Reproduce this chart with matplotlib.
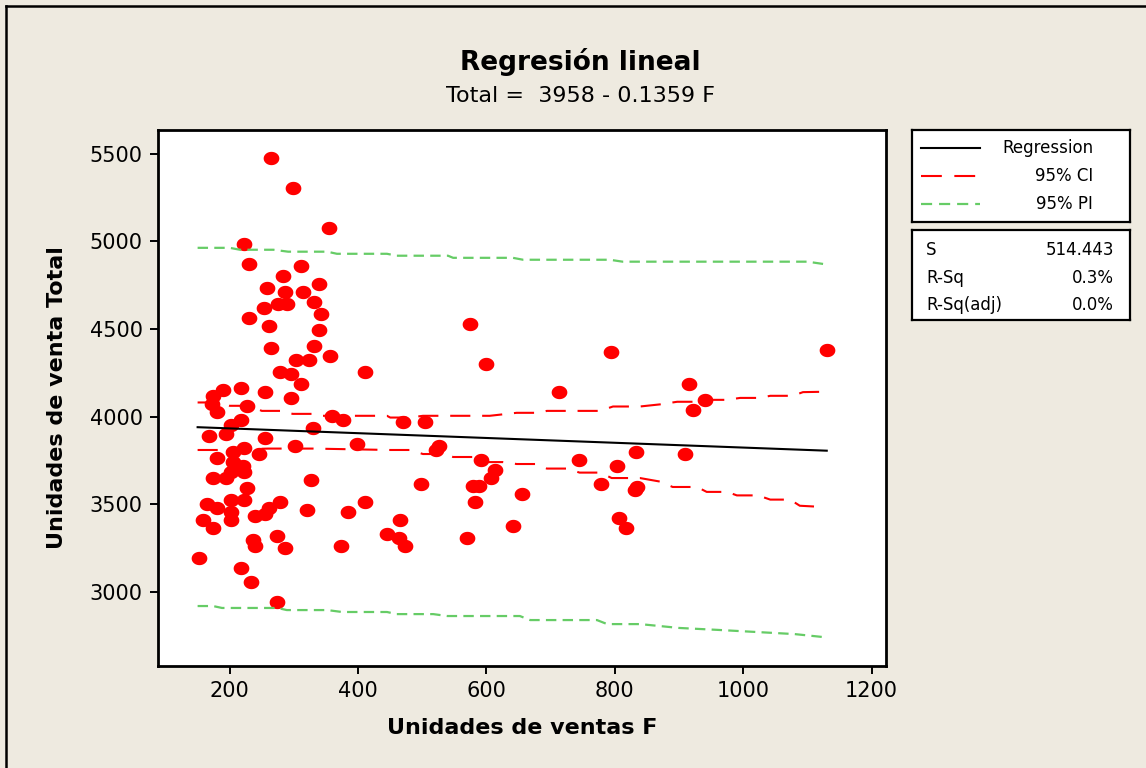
import numpy as np
import matplotlib
matplotlib.use("Agg")
import matplotlib.pyplot as plt
from matplotlib.path import Path
from matplotlib.markers import MarkerStyle

plt.rcParams['font.family'] = ['DejaVu Sans']
plt.rcParams['lines.scale_dashes'] = False

# observed data (Unidades de ventas F, Unidades de venta Total)
ventas_f = [264, 298, 354, 223, 230, 311, 283, 258, 286, 314, 339, 332, 276, 289, 254,
            342, 230, 261, 339, 264, 332, 357, 304, 323, 410, 279, 295, 311, 217, 189,
            174, 255, 295, 172, 180, 227, 217, 202, 195, 167, 255, 329, 360, 376, 301,
            398, 223, 205, 245, 180, 205, 220, 223, 202, 174, 195, 326, 227, 165, 180,
            202, 223, 202, 202, 158, 174, 239, 255, 261, 279, 320, 385, 410, 236, 239,
            273, 286, 373, 152, 217, 233, 273, 445, 575, 600, 713, 794, 470, 504, 526,
            522, 591, 613, 607, 498, 579, 588, 582, 656, 744, 803, 833, 778, 834, 831,
            466, 463, 473, 569, 641, 806, 818, 1130, 915, 940, 921, 909]
venta_total = [5477, 5304, 5078, 4986, 4872, 4861, 4804, 4735, 4712, 4712, 4758, 4655, 4644, 4644, 4621,
               4587, 4564, 4518, 4495, 4393, 4404, 4347, 4324, 4324, 4256, 4256, 4244, 4187, 4164, 4153,
               4119, 4142, 4107, 4075, 4024, 4062, 3982, 3950, 3902, 3890, 3879, 3936, 4005, 3982, 3833,
               3845, 3822, 3799, 3788, 3765, 3742, 3719, 3685, 3685, 3651, 3651, 3639, 3594, 3502, 3479,
               3525, 3525, 3457, 3411, 3411, 3365, 3434, 3445, 3479, 3514, 3468, 3457, 3514, 3297, 3263,
               3320, 3251, 3263, 3194, 3137, 3057, 2943, 3331, 4530, 4301, 4142, 4370, 3970, 3970, 3833,
               3810, 3753, 3696, 3651, 3616, 3605, 3605, 3514, 3559, 3753, 3719, 3799, 3616, 3599, 3582,
               3411, 3308, 3263, 3308, 3377, 3422, 3365, 4381, 4187, 4096, 4039, 3788]

# fitted line and bands
fit_x = [150, 1130]
fit_y = [3940, 3806]

ci_up_x = [150, 185, 200, 232, 250, 283, 298, 336, 345, 445, 450, 481, 501, 605, 647, 683,
           694, 777, 797, 839, 870, 897, 928, 948, 975, 995, 1026, 1042, 1077, 1093, 1124]
ci_up_y = [4081, 4081, 4062, 4062, 4033, 4033, 4016, 4016, 4005, 4005, 3995, 3995, 4005, 4005, 4022, 4022,
           4033, 4033, 4058, 4058, 4070, 4085, 4085, 4096, 4096, 4107, 4107, 4119, 4119, 4140, 4142]
ci_lo_x = [150, 185, 260, 330, 450, 481, 501, 533, 548, 579, 600, 626, 647, 678, 694, 725,
           745, 777, 795, 839, 870, 890, 928, 943, 975, 990, 1023, 1042, 1073, 1088, 1124]
ci_lo_y = [3810, 3810, 3818, 3818, 3810, 3810, 3787, 3787, 3770, 3770, 3741, 3741, 3730, 3730, 3704, 3704,
           3681, 3681, 3650, 3650, 3630, 3599, 3599, 3571, 3571, 3551, 3551, 3527, 3527, 3492, 3485]
pi_up_x = [150, 200, 216, 268, 291, 352, 367, 445, 460, 540, 548, 641, 657, 792, 812, 1100, 1130]
pi_up_y = [4963, 4963, 4952, 4952, 4941, 4941, 4929, 4929, 4918, 4918, 4906, 4906, 4895, 4895, 4884, 4884, 4868]
pi_lo_x = [150, 174, 188, 274, 289, 352, 375, 445, 460, 517, 539, 652, 668, 772, 788, 839,
           900, 960, 1020, 1080, 1130]
pi_lo_y = [2920, 2920, 2909, 2909, 2897, 2897, 2886, 2886, 2874, 2874, 2863, 2863, 2840, 2840, 2817, 2817,
           2795, 2784, 2772, 2760, 2741]

x_ticks = [200, 400, 600, 800, 1000, 1200]
y_ticks = [3000, 3500, 4000, 4500, 5000, 5500]

stats_labels = ['S', 'R-Sq', 'R-Sq(adj)']
stats_values = ['514.443', '0.3%', '0.0%']
legend_labels = ['Regression', '95% CI', '95% PI']

bg = '#EEEAE0'
green = '#66CC66'

W, H = 1146, 768
fig = plt.figure(figsize=(W / 100, H / 100), dpi=100, facecolor=bg)


def box(x0, y0, x1, y1):
    # pixel box -> figure fraction rect
    return [x0 / W, 1 - y1 / H, (x1 - x0) / W, (y1 - y0) / H]


# outer frame (only top and left are visible in the crop)
fig.add_artist(plt.Line2D([5.5 / W, 5.5 / W], [0, 1 - 6 / H], color='black', lw=1.8))
fig.add_artist(plt.Line2D([5.5 / W, 1], [1 - 6 / H, 1 - 6 / H], color='black', lw=1.8))

ax = fig.add_axes(box(158, 130, 886, 666))
ax.set_facecolor('white')

t = np.linspace(0, 2 * np.pi, 60)
ellipse = MarkerStyle(Path(np.column_stack([np.cos(t), 0.85 * np.sin(t)]), closed=True))
ax.plot(ventas_f, venta_total, linestyle='none', marker=ellipse, ms=11.3,
        color='#FF0000', mec='none', zorder=2)

ax.plot(fit_x, fit_y, color='black', lw=1.5, zorder=3)
ax.plot(ci_up_x, ci_up_y, color='#FF0000', lw=1.5, dashes=(14.5, 8.5), zorder=3)
ax.plot(ci_lo_x, ci_lo_y, color='#FF0000', lw=1.5, dashes=(14.5, 8.5), zorder=3)
ax.plot(pi_up_x, pi_up_y, color=green, lw=1.6, dashes=(7.5, 4.5), zorder=3)
ax.plot(pi_lo_x, pi_lo_y, color=green, lw=1.6, dashes=(7.5, 4.5), zorder=3)

ax.set_xlim(88.3, 1222.3)
ax.set_ylim(2578, 5635)
ax.set_xticks(x_ticks)
ax.set_yticks(y_ticks)
ax.tick_params(direction='out', length=6, width=1.4, labelsize=15, pad=5, color='black')
for s in ax.spines.values():
    s.set_linewidth(2)

ax.set_xlabel('Unidades de ventas F', fontsize=16, fontweight='bold', labelpad=12)
ax.set_ylabel('Unidades de venta Total', fontsize=16, fontweight='bold', labelpad=16)

fig.text(580 / W, 1 - 62 / H, 'Regresión lineal', fontsize=19, fontweight='bold',
         ha='center', va='center')
fig.text(581 / W, 1 - 96 / H, 'Total =  3958 - 0.1359 F', fontsize=16,
         ha='center', va='center')

# legend box
lg = fig.add_axes(box(912, 130, 1130, 222))
lg.set_xlim(912, 1130)
lg.set_ylim(222, 130)
lg.set_xticks([])
lg.set_yticks([])
lg.set_facecolor('white')
for s in lg.spines.values():
    s.set_linewidth(1.6)
rows_y = [148, 176, 204]
lg.plot([921, 980], [rows_y[0]] * 2, color='black', lw=1.5)
lg.plot([921, 980], [rows_y[1]] * 2, color='#FF0000', lw=1.5, dashes=(15, 9))
lg.plot([921, 980], [rows_y[2]] * 2, color=green, lw=1.6, dashes=(8, 5))
for lab, yy in zip(legend_labels, rows_y):
    lg.text(1093, yy, lab, fontsize=12, ha='right', va='center')

# statistics box
st = fig.add_axes(box(912, 230, 1130, 320))
st.set_xlim(912, 1130)
st.set_ylim(320, 230)
st.set_xticks([])
st.set_yticks([])
st.set_facecolor('white')
for s in st.spines.values():
    s.set_linewidth(1.6)
for lab, val, yy in zip(stats_labels, stats_values, [250, 278, 305]):
    st.text(926, yy, lab, fontsize=12, ha='left', va='center')
    st.text(1114, yy, val, fontsize=12, ha='right', va='center')

fig.savefig('out.png', dpi=100, facecolor=bg)
